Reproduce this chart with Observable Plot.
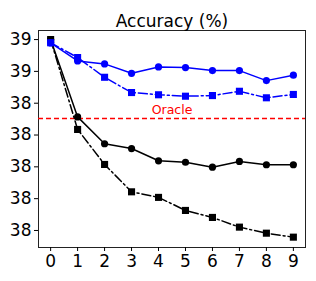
<!DOCTYPE html>
<html><head><meta charset="utf-8">
<script src="https://cdn.jsdelivr.net/npm/d3@7"></script>
<script src="https://cdn.jsdelivr.net/npm/@observablehq/plot@0.6"></script>
<style>body{margin:0;background:#fff;} svg{font-family:"DejaVu Sans",sans-serif;}</style>
</head><body><div id="chart"></div>
<script>
const steps = [0,1,2,3,4,5,6,7,8,9];
const blueCircle = [38.879,38.766,38.747,38.688,38.728,38.724,38.705,38.705,38.642,38.676];
const blueSquare = [38.880,38.787,38.663,38.567,38.553,38.544,38.548,38.575,38.534,38.555];
const blackCircle = [38.900,38.414,38.245,38.215,38.138,38.129,38.098,38.134,38.113,38.113];
const blackSquare = [38.900,38.335,38.115,37.943,37.908,37.826,37.782,37.721,37.683,37.658];
const oracle = 38.404;
const yTicks = [38.9,38.7,38.5,38.3,38.1,37.9,37.7];
const yTickLabels = ["39","39","38","38","38","38","38"];
const title = "Accuracy (%)";

const mk = (arr) => steps.map((s,i)=>({x:s,y:arr[i]}));
const series = [
  {data: mk(blackCircle), color:"black", dash:null, symbol:"circle", r:3.6},
  {data: mk(blackSquare), color:"black", dash:"9,3,2,3", symbol:"square", r:4},
  {data: mk(blueCircle), color:"#0000ff", dash:null, symbol:"circle", r:3.6},
  {data: mk(blueSquare), color:"#0000ff", dash:"9,3,2,3", symbol:"square", r:4},
];
const marks = [
  Plot.frame({stroke:"#222", strokeWidth:1}),
  Plot.ruleY([oracle], {stroke:"red", strokeWidth:1.5, strokeDasharray:"5,3"}),
  Plot.text([{x:4.5,y:oracle}], {x:"x", y:"y", text:()=>"Oracle", fill:"red", fontSize:12.5, dy:-8}),
];
for (const s of series) {
  marks.push(Plot.line(s.data, {x:"x", y:"y", stroke:s.color, strokeWidth:1.5, strokeDasharray:s.dash}));
  marks.push(Plot.dot(s.data, {x:"x", y:"y", fill:s.color, stroke:null, symbol:s.symbol, r:s.r}));
}
marks.push(Plot.text([title], {frameAnchor:"top", dy:-16, fontSize:17, fill:"black", text:d=>d}));
marks.push(Plot.axisX({ticks:steps, tickFormat:d=>String(d), tickSize:4, fontSize:17, tickPadding:3, label:null}));
marks.push(Plot.axisY({ticks:yTicks, tickFormat:(d)=>yTickLabels[yTicks.findIndex(t=>Math.abs(t-d)<1e-9)], tickSize:4, fontSize:17, tickPadding:3, label:null}));

const chart = Plot.plot({
  width:316, height:281,
  marginLeft:38, marginRight:11, marginTop:30, marginBottom:34,
  x:{domain:[-0.45,9.45]},
  y:{domain:[37.593,38.957]},
  style:{fontFamily:"DejaVu Sans, sans-serif", color:"black"},
  marks
});
document.getElementById("chart").append(chart);
</script></body></html>
